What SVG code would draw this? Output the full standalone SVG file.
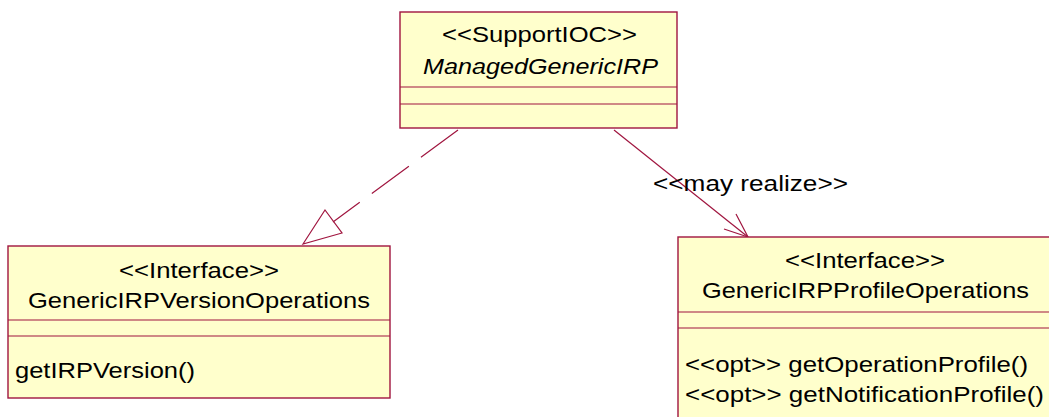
<svg xmlns="http://www.w3.org/2000/svg" width="1049" height="417" viewBox="0 0 1049 417">
<style>
.box{fill:#FFFFCC;stroke:#A0153F;stroke-width:1.4}
.div{stroke:#A0153F;stroke-width:1.2;fill:none}
.t{font-family:"Liberation Sans",Arial,sans-serif;font-size:21.5px;fill:#000}
.conn{stroke:#A0153F;stroke-width:1.2;fill:none}
</style>
<rect width="1049" height="417" fill="#fff"/>
<g id="connectors">
<line class="conn" x1="458" y1="130" x2="333" y2="222" stroke-dasharray="46 15"/>
<polygon class="conn" points="303,244 325,210 342,233"/>
<line class="conn" x1="614" y1="130" x2="748" y2="237"/>
<polyline class="conn" points="736,214 748,237 724,229"/>
<text class="t" x="653" y="191" textLength="195" lengthAdjust="spacingAndGlyphs">&lt;&lt;may realize&gt;&gt;</text>
</g>
<g id="ManagedGenericIRP">
<rect class="box" x="400" y="12" width="277" height="116"/>
<line class="div" x1="400" y1="87" x2="677" y2="87"/>
<line class="div" x1="400" y1="104" x2="677" y2="104"/>
<text class="t" x="442" y="42" textLength="195" lengthAdjust="spacingAndGlyphs">&lt;&lt;SupportIOC&gt;&gt;</text>
<text class="t" x="423" y="74" font-style="italic" textLength="235" lengthAdjust="spacingAndGlyphs">ManagedGenericIRP</text>
</g>
<g id="GenericIRPVersionOperations">
<rect class="box" x="8" y="246" width="382" height="152"/>
<line class="div" x1="8" y1="320" x2="390" y2="320"/>
<line class="div" x1="8" y1="336" x2="390" y2="336"/>
<text class="t" x="119" y="278" textLength="160" lengthAdjust="spacingAndGlyphs">&lt;&lt;Interface&gt;&gt;</text>
<text class="t" x="28" y="308" textLength="342" lengthAdjust="spacingAndGlyphs">GenericIRPVersionOperations</text>
<text class="t" x="15" y="378" textLength="180" lengthAdjust="spacingAndGlyphs">getIRPVersion()</text>
</g>
<g id="GenericIRPProfileOperations">
<rect class="box" x="678" y="237" width="374" height="200"/>
<line class="div" x1="678" y1="312" x2="1052" y2="312"/>
<line class="div" x1="678" y1="328" x2="1052" y2="328"/>
<text class="t" x="785" y="268" textLength="160" lengthAdjust="spacingAndGlyphs">&lt;&lt;Interface&gt;&gt;</text>
<text class="t" x="702" y="298" textLength="327" lengthAdjust="spacingAndGlyphs">GenericIRPProfileOperations</text>
<text class="t" x="685" y="372" textLength="343" lengthAdjust="spacingAndGlyphs">&lt;&lt;opt&gt;&gt; getOperationProfile()</text>
<text class="t" x="685" y="402" textLength="359" lengthAdjust="spacingAndGlyphs">&lt;&lt;opt&gt;&gt; getNotificationProfile()</text>
</g>
</svg>
